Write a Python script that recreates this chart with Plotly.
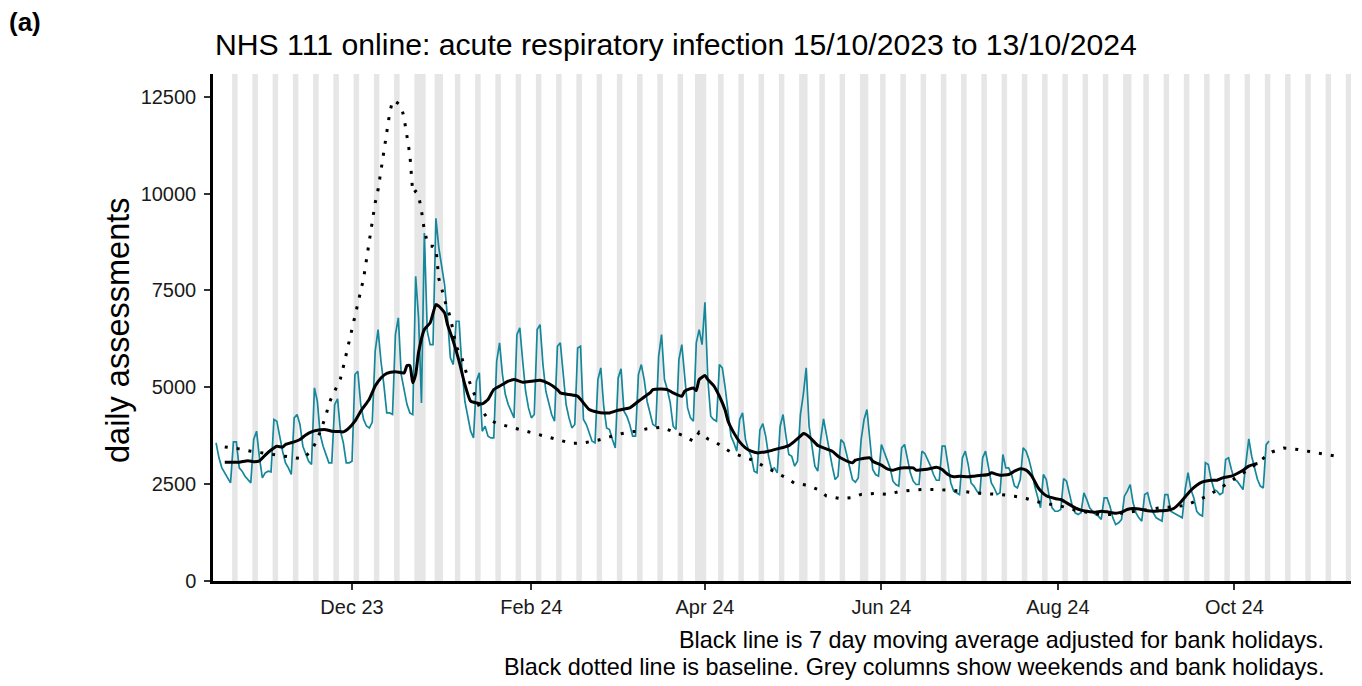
import pandas as pd
import plotly.graph_objects as go

# ---------------- data ----------------
daily_start = "2023-10-15"
# daily NHS 111 online assessments, 15/10/2023 .. 13/10/2024 (first value Sunday, then Mon..Sun weeks)
daily_values = [
    3565,
    3178, 2920, 2791, 2662, 2533, 3591, 3591,
    2920, 2834, 2705, 2619, 2533, 3651, 3866,
    3178, 2662, 2791, 2834, 2817, 4167, 4124,
    3694, 3350, 3049, 2920, 2748, 4210, 4296,
    4038, 3479, 3264, 3092, 3006, 4985, 4640,
    3780, 3479, 3264, 3049, 3049, 4554, 4700,
    3866, 3565, 3049, 3049, 3092, 5330, 5413,
    4554, 4170, 4000, 3950, 4100, 5930, 6489,
    5671, 5070, 4339, 4339, 4300, 6360, 6790,
    5328, 4898, 4554, 4339, 4296, 7864, 6790,
    4597, 8982, 6446, 6102, 6102, 9363, 8600,
    8160, 7643, 6790, 5758, 5586, 6704, 6704,
    5500, 4640, 4210, 3866, 3694, 5156, 5371,
    3866, 3995, 3737, 3694, 3694, 5672, 6145,
    5328, 4812, 4554, 4382, 4210, 6360, 6532,
    5672, 4898, 4468, 4210, 4296, 6489, 6618,
    5586, 4898, 4554, 4296, 4124, 6059, 6145,
    5243, 4554, 4210, 3952, 4038, 6016, 6059,
    4167, 4038, 3823, 3608, 3565, 5199, 5500,
    4511, 3952, 3909, 3651, 3436, 5242, 5475,
    4382, 4253, 4038, 3737, 3737, 5328, 5586,
    5199, 4640, 4296, 4038, 3995, 5800, 6360,
    5199, 4941, 4597, 3995, 3909, 5715, 6102,
    5285, 4468, 4210, 4124, 6145, 6489, 6102,
    7194, 5199, 4253, 4167, 4124, 5586, 5500,
    4984, 4425, 3737, 3565, 3349, 4167, 4339,
    3651, 3393, 3221, 2834, 2791, 3900, 4063,
    3737, 3221, 2877, 2920, 2791, 3995, 4296,
    3737, 3264, 3221, 2963, 3092, 4296, 4812,
    5500, 3995, 3436, 2963, 2834, 3651, 4184,
    3737, 3349, 2963, 2619, 2705, 3651, 3565,
    3264, 2963, 2619, 2550, 2662, 3651, 4167,
    4425, 3651, 2877, 2748, 2705, 3522, 3307,
    3092, 2920, 2576, 2490, 2447, 3436, 3522,
    3135, 2791, 2576, 2490, 2490, 3349, 3290,
    3135, 2963, 2748, 2600, 2600, 3480, 3480,
    3050, 2530, 2320, 2275, 2230, 3180, 3350,
    3005, 2530, 2450, 2320, 2230, 3180, 3350,
    2960, 2530, 2400, 2230, 2275, 3265, 2920,
    2920, 2750, 2450, 2400, 2620, 3440, 3350,
    3135, 2835, 2450, 2145, 1890, 2750, 2620,
    2190, 1890, 1800, 1800, 1845, 2645, 2575,
    2230, 1930, 1760, 1715, 1760, 2275, 2100,
    1890, 1800, 1715, 1675, 1590, 2145, 2145,
    1930, 1630, 1458, 1502, 1587, 2189, 2318,
    2490, 2017, 1760, 1630, 1545, 2230, 2275,
    1974, 1760, 1630, 1590, 1545, 2230, 2230,
    1800, 1760, 1715, 1675, 1630, 2360, 2795,
    2360, 2145, 1800, 1715, 1675, 3050, 3005,
    2620, 2360, 2320, 2230, 2275, 3135, 3180,
    2880, 2620, 2575, 2450, 2360, 3050, 3670,
    3220, 2920, 2620, 2450, 2400, 3520, 3610,
]

# 7 day moving average adjusted for bank holidays (read at intervals)
ma_dates = [
    "2023-10-18", "2023-10-21", "2023-10-23", "2023-10-26", "2023-10-28", "2023-10-30",
    "2023-11-01", "2023-11-03", "2023-11-05", "2023-11-07", "2023-11-08", "2023-11-11",
    "2023-11-13", "2023-11-15", "2023-11-17", "2023-11-19", "2023-11-22", "2023-11-24",
    "2023-11-26", "2023-11-28", "2023-11-30", "2023-12-02", "2023-12-04", "2023-12-07",
    "2023-12-09", "2023-12-11", "2023-12-13", "2023-12-16", "2023-12-19", "2023-12-20",
    "2023-12-21", "2023-12-22", "2023-12-23", "2023-12-24", "2023-12-26", "2023-12-28",
    "2023-12-30", "2023-12-31", "2024-01-02", "2024-01-03", "2024-01-05", "2024-01-07",
    "2024-01-09", "2024-01-11", "2024-01-13", "2024-01-15", "2024-01-17", "2024-01-19",
    "2024-01-22", "2024-01-24", "2024-01-26", "2024-01-29", "2024-02-01", "2024-02-04",
    "2024-02-07", "2024-02-10", "2024-02-11", "2024-02-14", "2024-02-17", "2024-02-19",
    "2024-02-21", "2024-02-24", "2024-02-26", "2024-02-28", "2024-03-02", "2024-03-04",
    "2024-03-06", "2024-03-09", "2024-03-11", "2024-03-13", "2024-03-14", "2024-03-17",
    "2024-03-19", "2024-03-21", "2024-03-24", "2024-03-25", "2024-03-28", "2024-03-29",
    "2024-03-30", "2024-04-01", "2024-04-02", "2024-04-04", "2024-04-06", "2024-04-08",
    "2024-04-09", "2024-04-11", "2024-04-13", "2024-04-15", "2024-04-17", "2024-04-19",
    "2024-04-23", "2024-04-26", "2024-04-30", "2024-05-02", "2024-05-04", "2024-05-05",
    "2024-05-06", "2024-05-08", "2024-05-10", "2024-05-12", "2024-05-15", "2024-05-17",
    "2024-05-19", "2024-05-21", "2024-05-22", "2024-05-23", "2024-05-25", "2024-05-28",
    "2024-05-29", "2024-06-01", "2024-06-03", "2024-06-05", "2024-06-07", "2024-06-09",
    "2024-06-12", "2024-06-13", "2024-06-16", "2024-06-18", "2024-06-20", "2024-06-22",
    "2024-06-24", "2024-06-26", "2024-06-28", "2024-07-01", "2024-07-03", "2024-07-05",
    "2024-07-08", "2024-07-09", "2024-07-11", "2024-07-12", "2024-07-15", "2024-07-17",
    "2024-07-19", "2024-07-21", "2024-07-23", "2024-07-25", "2024-07-26", "2024-07-28",
    "2024-07-31", "2024-08-02", "2024-08-04", "2024-08-07", "2024-08-09", "2024-08-11",
    "2024-08-14", "2024-08-16", "2024-08-18", "2024-08-21", "2024-08-23", "2024-08-25",
    "2024-08-27", "2024-08-30", "2024-09-01", "2024-09-03", "2024-09-05", "2024-09-08",
    "2024-09-10", "2024-09-12", "2024-09-14", "2024-09-16", "2024-09-18", "2024-09-20",
    "2024-09-23", "2024-09-25", "2024-09-27", "2024-09-30", "2024-10-02", "2024-10-04",
    "2024-10-06", "2024-10-08", "2024-10-09",
]
ma_values = [
    3066, 3066, 3066, 3105, 3080, 3100,
    3250, 3380, 3479, 3455, 3522, 3590,
    3651, 3770, 3849, 3890, 3905, 3866,
    3860, 3849, 3952, 4124, 4380, 4700,
    5030, 5240, 5360, 5400, 5372, 5560,
    5560, 5114, 5329, 5900, 6490, 6662,
    7135, 7092, 6920, 6619, 6189, 5673,
    5071, 4641, 4598, 4572, 4683, 4941,
    5071, 5157, 5200, 5131, 5157, 5183,
    5097, 4941, 4855, 4812, 4768, 4596,
    4424, 4355, 4338, 4338, 4407, 4441,
    4467, 4639, 4751, 4854, 4940, 4957,
    4940, 4854, 4768, 4897, 4983, 4914,
    5198, 5301, 5198, 5044, 4768, 4407,
    4124, 3823, 3591, 3436, 3350, 3307,
    3350, 3410, 3496, 3608, 3737, 3806,
    3780, 3651, 3496, 3436, 3350, 3221,
    3135, 3066, 3049, 3118, 3152, 3178,
    3092, 2989, 2894, 2860, 2903, 2920,
    2920, 2860, 2877, 2903, 2937, 2877,
    2748, 2688, 2705, 2688, 2705, 2722,
    2748, 2791, 2748, 2731, 2748, 2834,
    2894, 2860, 2705, 2430, 2330, 2200,
    2129, 2103, 2017, 1888, 1828, 1802,
    1776, 1802, 1785, 1750, 1776, 1845,
    1871, 1845, 1811, 1802, 1811, 1828,
    1871, 2000, 2170, 2343, 2473, 2559,
    2602, 2602, 2662, 2705, 2774, 2860,
    2963, 3015, 3032,
]

# baseline (dotted)
baseline_dates = [
    "2023-10-18", "2023-10-23", "2023-10-27", "2023-10-31", "2023-11-05", "2023-11-09",
    "2023-11-14", "2023-11-17", "2023-11-19", "2023-11-22", "2023-11-23", "2023-11-25",
    "2023-11-27", "2023-11-28", "2023-11-29", "2023-11-30", "2023-12-01", "2023-12-02",
    "2023-12-03", "2023-12-04", "2023-12-05", "2023-12-06", "2023-12-07", "2023-12-08",
    "2023-12-09", "2023-12-10", "2023-12-11", "2023-12-12", "2023-12-13", "2023-12-14",
    "2023-12-15", "2023-12-16", "2023-12-17", "2023-12-18", "2023-12-19", "2023-12-20",
    "2023-12-21", "2023-12-22", "2023-12-23", "2023-12-24", "2023-12-25", "2023-12-26",
    "2023-12-27", "2023-12-28", "2023-12-29", "2023-12-30", "2023-12-31", "2024-01-01",
    "2024-01-02", "2024-01-03", "2024-01-04", "2024-01-06", "2024-01-08", "2024-01-10",
    "2024-01-12", "2024-01-14", "2024-01-17", "2024-01-20", "2024-01-25", "2024-01-29",
    "2024-02-02", "2024-02-07", "2024-02-11", "2024-02-15", "2024-02-19", "2024-02-24",
    "2024-02-28", "2024-03-03", "2024-03-08", "2024-03-12", "2024-03-17", "2024-03-21",
    "2024-03-25", "2024-03-28", "2024-03-30", "2024-04-02", "2024-04-05", "2024-04-09",
    "2024-04-12", "2024-04-17", "2024-04-21", "2024-04-25", "2024-04-29", "2024-05-02",
    "2024-05-06", "2024-05-10", "2024-05-13", "2024-05-18", "2024-05-22", "2024-05-25",
    "2024-05-30", "2024-06-03", "2024-06-07", "2024-06-11", "2024-06-16", "2024-06-20",
    "2024-06-25", "2024-06-29", "2024-07-03", "2024-07-08", "2024-07-12", "2024-07-17",
    "2024-07-21", "2024-07-25", "2024-07-30", "2024-08-03", "2024-08-07", "2024-08-12",
    "2024-08-16", "2024-08-20", "2024-08-24", "2024-08-28", "2024-09-01", "2024-09-05",
    "2024-09-10", "2024-09-14", "2024-09-18", "2024-09-22", "2024-09-26", "2024-09-30",
    "2024-10-03", "2024-10-07", "2024-10-10", "2024-10-14", "2024-10-18", "2024-10-23",
    "2024-10-27", "2024-11-01", "2024-11-05",
]
baseline_values = [
    3460, 3410, 3350, 3305, 3250, 3195,
    3150, 3370, 3650, 4270, 4580, 4900,
    5225, 5530, 5860, 6170, 6510, 6835,
    7150, 7480, 7810, 8300, 8790, 9280,
    9760, 10100, 10600, 11080, 11570, 12070,
    12400, 12380, 12320, 12250, 11950, 11500,
    11000, 10010, 10060, 9950, 9560, 9050,
    8750, 8640, 8640, 8600, 7800, 7550,
    7250, 7030, 6800, 6060, 5750, 5250,
    4850, 4500, 4180, 4070, 3970, 3890,
    3800, 3710, 3630, 3550, 3565, 3634,
    3720, 3798, 3867, 3927, 3970, 3849,
    3737, 3608, 3840, 3668, 3565, 3367,
    3264, 3135, 2975, 2812, 2666, 2520,
    2477, 2365, 2193, 2125, 2150, 2236,
    2262, 2236, 2305, 2339, 2365, 2362,
    2335, 2318, 2275, 2257, 2232, 2189,
    2129, 2043, 1974, 1914, 1828, 1759,
    1716, 1720, 1760, 1810, 1850, 1885,
    1914, 1950, 2070, 2210, 2390, 2580,
    2730, 2930, 3110, 3330, 3430, 3395,
    3340, 3273, 3225,
]

bank_holidays = ["2023-12-25", "2023-12-26", "2024-01-01", "2024-03-29",
                 "2024-04-01", "2024-05-06", "2024-05-27", "2024-08-26"]
shade_start, shade_end = "2023-10-21", "2024-11-10"

x_tick_dates = ["2023-12-01", "2024-02-01", "2024-04-01", "2024-06-01", "2024-08-01", "2024-10-01"]
x_tick_labels = ["Dec 23", "Feb 24", "Apr 24", "Jun 24", "Aug 24", "Oct 24"]
y_ticks = [0, 2500, 5000, 7500, 10000, 12500]

title_text = "NHS 111 online: acute respiratory infection 15/10/2023 to 13/10/2024"
caption_1 = "Black line is 7 day moving average adjusted for bank holidays."
caption_2 = "Black dotted line is baseline. Grey columns show weekends and bank holidays."
ytitle_text = "daily assessments"

# ---------------- figure ----------------
FONT = "Liberation Sans, Arial, sans-serif"
W, H = 1362, 686
ML, MR, MT, MB = 213, 11, 74, 105

daily_dates = pd.date_range(daily_start, periods=len(daily_values), freq="D")

# grey columns: weekends + bank holidays, merged into runs
all_days = pd.date_range(shade_start, shade_end, freq="D")
bh = set(pd.to_datetime(bank_holidays))
grey = [d for d in all_days if d.weekday() >= 5 or d in bh]
runs = []
for d in grey:
    if runs and (d - runs[-1][1]).days == 1:
        runs[-1][1] = d
    else:
        runs.append([d, d])
half = pd.Timedelta(hours=10.8)
shapes = [dict(type="rect", xref="x", yref="paper", x0=a - half, x1=b + half, y0=0, y1=1,
               fillcolor="#e6e6e6", line=dict(width=0), layer="below") for a, b in runs]

fig = go.Figure()
fig.add_trace(go.Scatter(x=daily_dates, y=daily_values, mode="lines",
                         line=dict(color="#16879b", width=1.7), hoverinfo="skip"))
fig.add_trace(go.Scatter(x=pd.to_datetime(baseline_dates), y=baseline_values, mode="lines",
                         line=dict(color="black", width=3, dash="3px,9px"), hoverinfo="skip"))
fig.add_trace(go.Scatter(x=pd.to_datetime(ma_dates), y=ma_values, mode="lines",
                         line=dict(color="black", width=3, shape="spline", smoothing=0.5),
                         hoverinfo="skip"))

plot_h = H - MT - MB
plot_w = W - ML - MR

def py(px):  # pixel y from top -> paper
    return (H - MB - px) / plot_h

def pxp(px):  # pixel x -> paper
    return (px - ML) / plot_w

annotations = [
    dict(text=title_text, x=0, y=py(45), xref="paper", yref="paper", xanchor="left",
         yanchor="middle", showarrow=False, font=dict(family=FONT, size=30.2, color="black")),
    dict(text="<b>(a)</b>", x=pxp(7), y=py(22), xref="paper", yref="paper", xanchor="left",
         yanchor="middle", showarrow=False, font=dict(family=FONT, size=26, color="black")),
    dict(text=caption_1, x=pxp(1326), y=py(640), xref="paper", yref="paper", xanchor="right",
         yanchor="middle", showarrow=False, font=dict(family=FONT, size=23.4, color="black")),
    dict(text=caption_2, x=pxp(1326), y=py(667), xref="paper", yref="paper", xanchor="right",
         yanchor="middle", showarrow=False, font=dict(family=FONT, size=23.4, color="black")),
    dict(text=ytitle_text, x=pxp(118), y=py(330), xref="paper", yref="paper", xanchor="center",
         yanchor="middle", textangle=-90, showarrow=False,
         font=dict(family=FONT, size=32.5, color="black")),
]

fig.update_layout(
    width=W, height=H, margin=dict(l=ML, r=MR, t=MT, b=MB, pad=0),
    paper_bgcolor="white", plot_bgcolor="white", showlegend=False,
    shapes=shapes, annotations=annotations,
    font=dict(family=FONT, color="black"),
    xaxis=dict(type="date", range=["2023-10-13 22:30", "2024-11-10 08:00"],
               tickvals=x_tick_dates, ticktext=x_tick_labels,
               showline=True, linecolor="black", linewidth=2.5, mirror=False,
               ticks="outside", ticklen=6, tickwidth=2, tickcolor="#333333",
               showgrid=False, zeroline=False, tickfont=dict(family=FONT, size=20, color="#1a1a1a")),
    yaxis=dict(range=[0, 13085], tickvals=y_ticks, ticktext=[str(v) for v in y_ticks],
               showline=True, linecolor="black", linewidth=2.5,
               ticks="outside", ticklen=6, tickwidth=2, tickcolor="#333333",
               showgrid=False, zeroline=False, ticklabelstandoff=4,
               tickfont=dict(family=FONT, size=20, color="#1a1a1a")),
)

fig.write_html("out.html", config={"displayModeBar": False},
               post_script="document.body.style.margin='0';document.body.style.overflow='hidden';")
